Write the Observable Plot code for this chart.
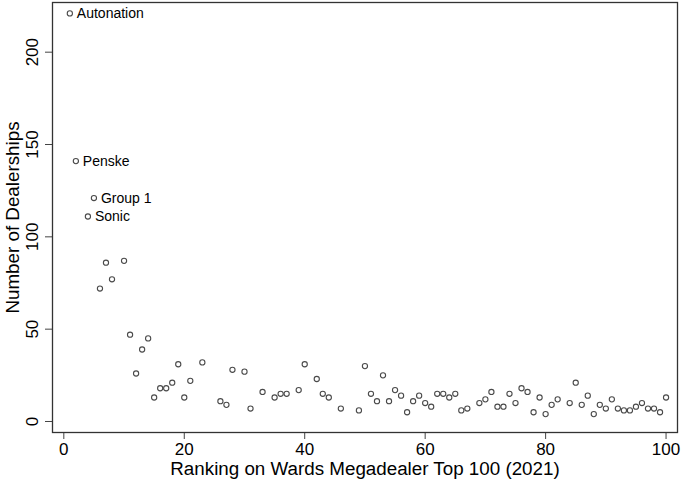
<!DOCTYPE html>
<html>
<head>
<meta charset="utf-8">
<script src="https://cdn.jsdelivr.net/npm/d3@7"></script>
<script src="https://cdn.jsdelivr.net/npm/@observablehq/plot@0.6"></script>
<style>
  html, body { margin: 0; padding: 0; background: #fff; }
  #chart svg { display: block; }
</style>
</head>
<body>
<div id="chart"></div>
<script>
const ranks = [1, 2, 4, 5, 6, 7, 8, 10, 11, 12, 13, 14, 15, 16, 17, 18, 19, 20, 21, 23,
  26, 27, 28, 30, 31, 33, 35, 36, 37, 39, 40, 42, 43, 44, 46, 49, 50, 51, 52, 53,
  54, 55, 56, 57, 58, 59, 60, 61, 62, 63, 64, 65, 66, 67, 69, 70, 71, 72, 73, 74,
  75, 76, 77, 78, 79, 80, 81, 82, 84, 85, 86, 87, 88, 89, 90, 91, 92, 93, 94, 95,
  96, 97, 98, 99, 100];
const dealerships = [221, 141, 111, 121, 72, 86, 77, 87, 47, 26, 39, 45, 13, 18, 18, 21, 31, 13, 22, 32,
  11, 9, 28, 27, 7, 16, 13, 15, 15, 17, 31, 23, 15, 13, 7, 6, 30, 15, 11, 25,
  11, 17, 14, 5, 11, 14, 10, 8, 15, 15, 13, 15, 6, 7, 10, 12, 16, 8, 8, 15,
  10, 18, 16, 5, 13, 4, 9, 12, 10, 21, 9, 14, 4, 9, 7, 12, 7, 6, 6, 8,
  10, 7, 7, 5, 13];
const labelRanks = [1, 2, 5, 4];
const labelNames = ["Autonation", "Penske", "Group 1", "Sonic"];
const xTicks = [0, 20, 40, 60, 80, 100];
const yTicks = [0, 50, 100, 150, 200];
const xTitle = "Ranking on Wards Megadealer Top 100 (2021)";
const yTitle = "Number of Dealerships";

const data = ranks.map((r, i) => ({rank: r, n: dealerships[i]}));
const labeled = labelRanks.map((r, i) => ({rank: r, n: dealerships[ranks.indexOf(r)], name: labelNames[i]}));

const chart = Plot.plot({
  width: 681,
  height: 481,
  marginLeft: 52,
  marginRight: 4,
  marginTop: 2,
  marginBottom: 49,
  style: {fontFamily: "'Liberation Sans', Arial, sans-serif", background: "#fff", color: "#000"},
  x: {domain: [-1.88, 101.9]},
  y: {domain: [-5.96, 226.9]},
  marks: [
    Plot.axisX({ticks: xTicks, tickSize: 7, tickPadding: 3, fontSize: 17, stroke: "#444", label: null}),
    Plot.axisX({ticks: [], tickSize: 0, fontSize: 18.8,
      label: xTitle, labelAnchor: "center", labelOffset: 42, labelArrow: "none"}),
    Plot.axisY({ticks: yTicks, tickSize: 7, tickPadding: 8, tickRotate: -90, fontSize: 17, stroke: "#444", label: null}),
    Plot.axisY({ticks: [], tickSize: 0, fontSize: 18.8,
      label: yTitle, labelAnchor: "center", labelOffset: 47, labelArrow: "none"}),
    Plot.frame({stroke: "#333", strokeWidth: 1.3}),
    Plot.dot(data, {x: "rank", y: "n", r: 2.6, stroke: "#4a4a4a", strokeWidth: 1.1, fill: "none"}),
    Plot.text(labeled, {x: "rank", y: "n", text: "name", dx: 7, textAnchor: "start", fontSize: 14, fill: "#000"})
  ]
});
document.getElementById("chart").appendChild(chart);
</script>
</body>
</html>
